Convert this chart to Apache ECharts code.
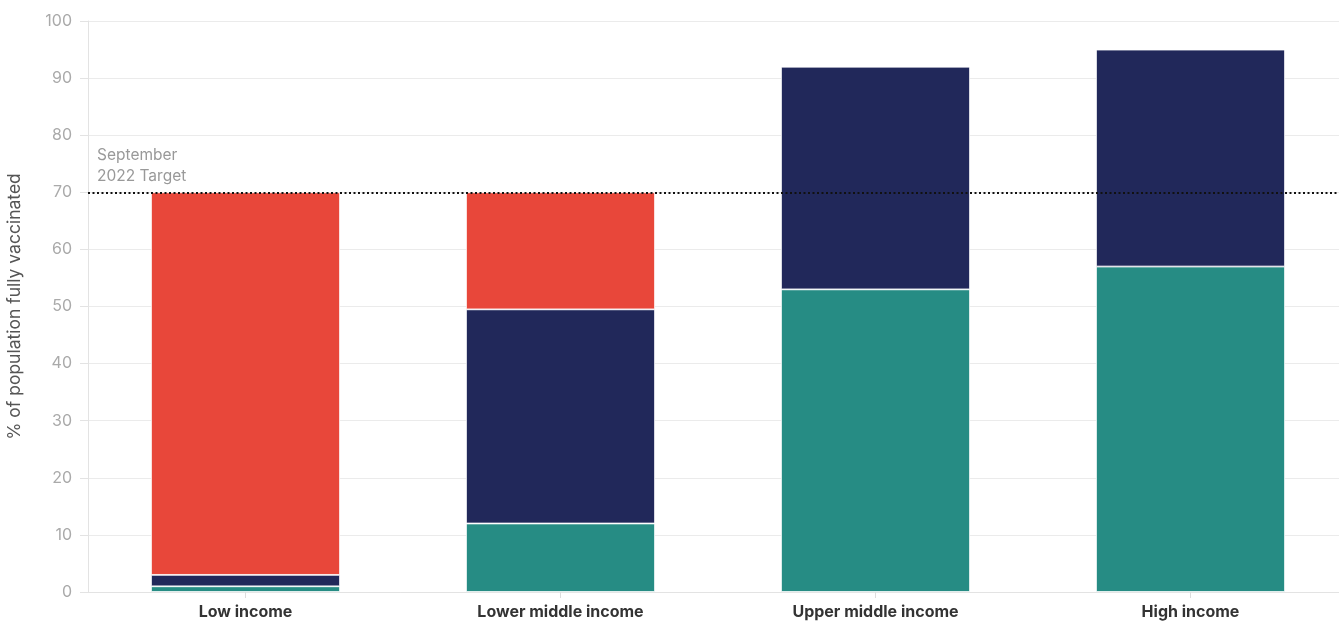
<!DOCTYPE html>
<html>
<head>
<meta charset="utf-8">
<script src="https://cdn.jsdelivr.net/npm/echarts@6/dist/echarts.min.js"></script>
<style>html,body{margin:0;padding:0;background:#fff;}#c{width:1339px;height:621px;}</style>
</head>
<body>
<div id="c"></div>
<script>
const categories = ['Low income', 'Lower middle income', 'Upper middle income', 'High income'];
const seriesA = [1, 12, 53, 57];     // teal (bottom)
const seriesB = [2, 37.5, 39, 38];   // navy (middle)
const seriesC = [67, 20.5, 0, 0];    // red (top)
const targetValue = 70;
const targetLabel = 'September\n2022 Target';
const yAxisName = '% of population fully vaccinated';

const font = 'Inter, "Noto Sans", sans-serif';
const chart = echarts.init(document.getElementById('c'));
const mk = (name, data, color) => ({
  name, type: 'bar', stack: 'total', data, barWidth: '60%',
  itemStyle: { color, borderColor: '#ffffff', borderWidth: 0.8 },
  emphasis: { disabled: true }
});
const sA = mk('A', seriesA, '#268c84');
const sB = mk('B', seriesB, '#21285a');
const sC = mk('C', seriesC, '#e8473a');
sC.markLine = {
  silent: true, symbol: 'none',
  lineStyle: { color: '#111', type: [2, 2.5], width: 2 },
  label: { show: true, position: 'insideStartTop', formatter: targetLabel, color: '#999', fontSize: 15.5, fontFamily: font, lineHeight: 21, align: 'left', distance: [9, 5] },
  data: [{ yAxis: targetValue }]
};
chart.setOption({
  animation: false,
  grid: { left: 88, right: -9, top: 21, bottom: 29, containLabel: false, outerBoundsMode: 'none' },
  xAxis: {
    type: 'category', data: categories,
    axisLine: { show: true, lineStyle: { color: '#e3e3e3' } },
    axisTick: { show: true, alignWithLabel: true, length: 6, lineStyle: { color: '#ddd' } },
    axisLabel: { color: '#333', fontSize: 16, fontWeight: 'bold', fontFamily: font, margin: 12 }
  },
  yAxis: {
    type: 'value', min: 0, max: 100, interval: 10,
    name: yAxisName, nameLocation: 'middle', nameGap: 64, nameRotate: 90,
    nameTextStyle: { color: '#555', fontSize: 17.5, fontFamily: font },
    axisLine: { show: true, lineStyle: { color: '#e3e3e3' } },
    axisTick: { show: true, length: 8, lineStyle: { color: '#e3e3e3' } },
    axisLabel: { color: '#aaa', fontSize: 16, fontFamily: font, margin: 16 },
    splitLine: { show: true, lineStyle: { color: '#ebebeb' } }
  },
  series: [sA, sB, sC]
});
</script>
</body>
</html>
